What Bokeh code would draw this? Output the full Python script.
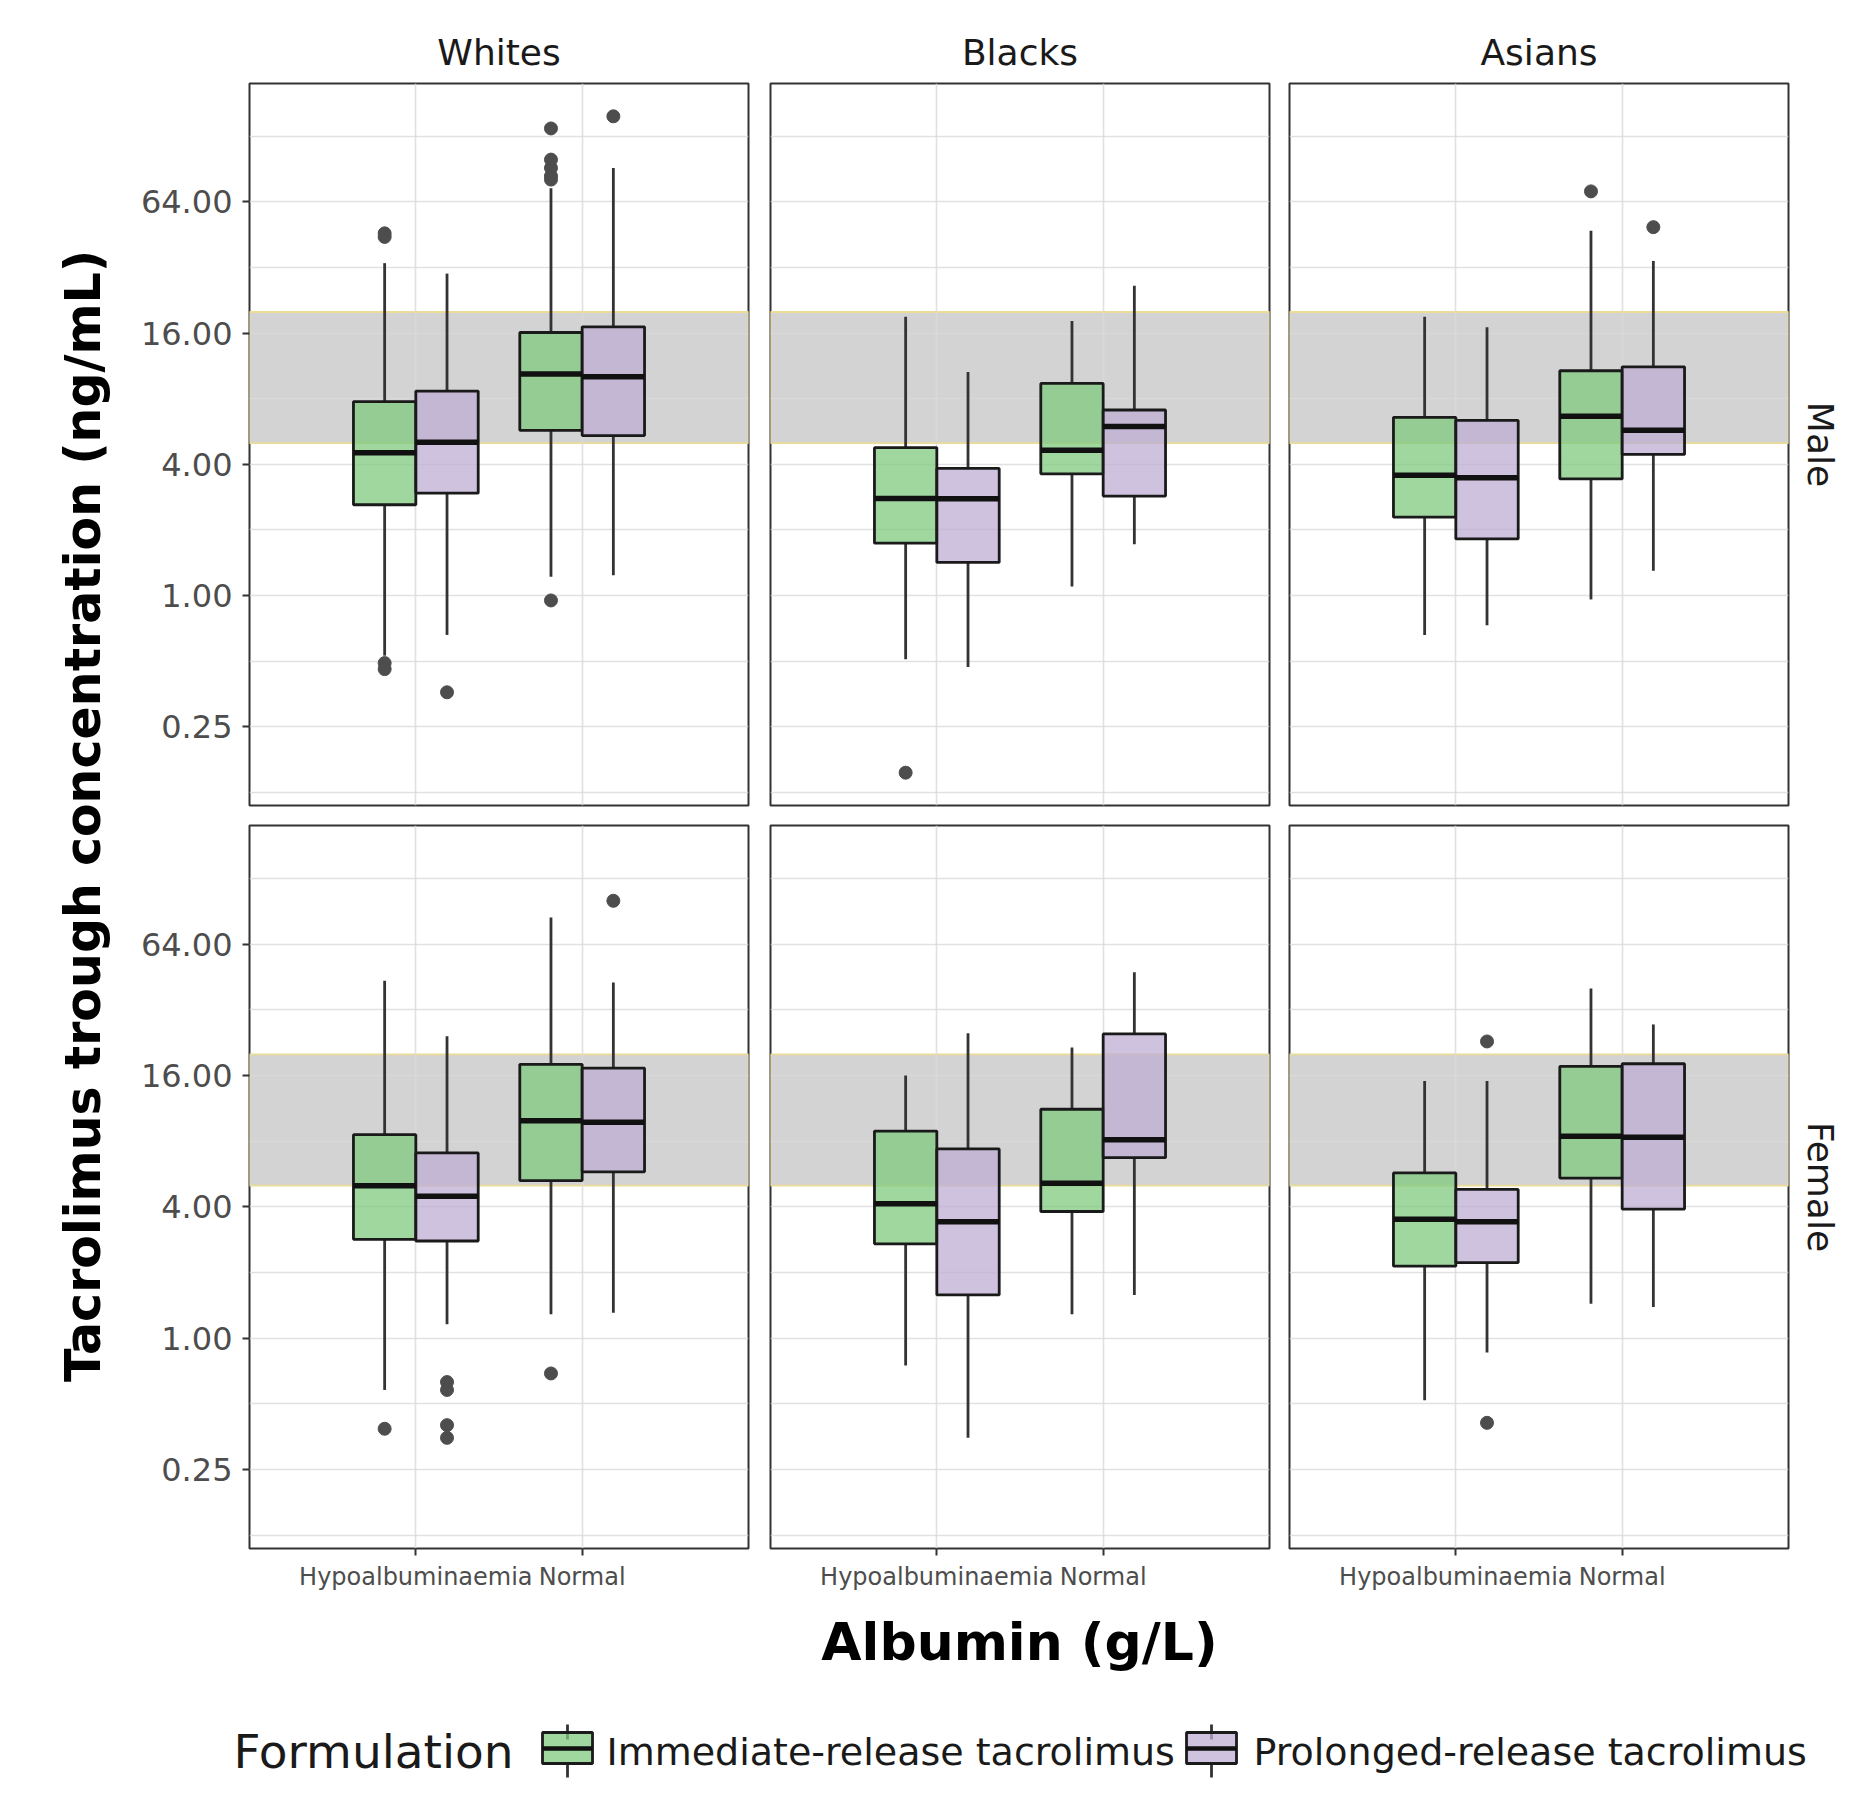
import itertools
import math

from bokeh.core.properties import value
from bokeh.embed import file_html
from bokeh.layouts import column, row
from bokeh.models import (ColumnDataSource, FixedTicker, PrintfTickFormatter,
                          Range1d, Title)
from bokeh.plotting import figure
from bokeh.resources import INLINE

# ---------------------------------------------------------------- data ----
RACES = ["Whites", "Blacks", "Asians"]
SEXES = ["Male", "Female"]
ALBUMIN = ["Hypoalbuminaemia", "Normal"]
FORMULATIONS = ["Immediate-release tacrolimus", "Prolonged-release tacrolimus"]

# Box statistics of tacrolimus trough concentration (ng/mL).
# One entry per group, ordered sex -> race -> albumin -> formulation (IR, PR).
whisker_low = [
    0.53, 0.66, 1.22, 1.24,    # Male, Whites
    0.51, 0.47, 1.10, 1.72,    # Male, Blacks
    0.66, 0.73, 0.96, 1.30,    # Male, Asians
    0.58, 1.16, 1.29, 1.31,    # Female, Whites
    0.75, 0.35, 1.29, 1.58,    # Female, Blacks
    0.52, 0.86, 1.44, 1.39,    # Female, Asians
]
q1 = [
    2.61, 2.95, 5.73, 5.42,
    1.74, 1.42, 3.62, 2.86,
    2.29, 1.82, 3.43, 4.44,
    2.84, 2.79, 5.28, 5.79,
    2.71, 1.58, 3.81, 6.72,
    2.14, 2.22, 5.42, 3.91,
]
median = [
    4.52, 5.05, 10.4, 10.1,
    2.79, 2.78, 4.64, 5.96,
    3.56, 3.47, 6.65, 5.73,
    5.00, 4.47, 9.93, 9.77,
    4.13, 3.42, 5.13, 8.12,
    3.51, 3.42, 8.43, 8.34,
]
q3 = [
    7.76, 8.67, 16.1, 17.1,
    4.77, 3.83, 9.40, 7.10,
    6.57, 6.36, 10.75, 11.2,
    8.57, 7.07, 18.0, 17.3,
    8.90, 7.37, 11.2, 24.8,
    5.72, 4.81, 17.6, 18.1,
]
whisker_high = [
    33.5, 30.0, 74.0, 91.6,
    19.0, 10.6, 18.2, 26.4,
    19.0, 17.0, 47.2, 34.3,
    43.4, 24.2, 84.7, 42.7,
    16.0, 25.0, 21.5, 47.5,
    15.1, 15.1, 40.0, 27.4,
]
# Outliers: index of the group (same ordering as above) and value
outlier_group = [0, 0, 0, 0, 1, 2, 2, 2, 2, 2, 2, 3, 4, 10, 11,
                 12, 13, 13, 13, 13, 14, 15, 21, 21]
outlier_value = [45.9, 44.2, 0.49, 0.46, 0.36, 139, 100, 91.6, 84, 81, 0.95,
                 158, 0.154, 71.5, 49, 0.385, 0.63, 0.58, 0.40, 0.35, 0.69,
                 101, 22.9, 0.41]

# Therapeutic target range (ng/mL)
TARGET_LOW, TARGET_HIGH = 5, 20
Y_TICKS = [0.25, 1, 4, 16, 64]
Y_MINOR = [Y_TICKS[0] / 2] + [t * 2 for t in Y_TICKS]

# ------------------------------------------------------------- styling ----
FONT = "DejaVu Sans"
FILLS = ["#7FC97F", "#BEAED4"]
BOX_W = 0.375
GRID = "#d9d9d9"
TEXT_DARK = "#1a1a1a"
TEXT_GREY = "#4d4d4d"
LINE_W = 2.8

GROUPS = list(itertools.product(range(len(SEXES)), range(len(RACES)),
                                range(len(ALBUMIN)), range(len(FORMULATIONS))))

# y range: data extent on log2 scale, expanded by 5 % on each side
all_vals = whisker_low + whisker_high + outlier_value
lo2, hi2 = math.log2(min(all_vals)), math.log2(max(all_vals))
pad = 0.05 * (hi2 - lo2)
Y_START, Y_END = 2 ** (lo2 - pad), 2 ** (hi2 + pad)

COL_W = [638, 521, 575]
COL_BORDERS = [(129, 10), (12, 10), (10, 66)]
ROW_H = [815, 783]
ROW_BORDERS = [(83, 10), (10, 50)]
YTITLE_W = 120


def make_panel(s_i, r_i):
    b_left, b_right = COL_BORDERS[r_i]
    b_top, b_bottom = ROW_BORDERS[s_i]
    p = figure(width=COL_W[r_i], height=ROW_H[s_i],
               x_range=Range1d(0, len(ALBUMIN) + 1),
               y_range=Range1d(Y_START, Y_END), y_axis_type="log",
               title=RACES[r_i] if s_i == 0 else None,
               output_backend="svg", toolbar_location=None, tools="",
               min_border_left=b_left, min_border_right=b_right,
               min_border_top=b_top, min_border_bottom=b_bottom)
    p.background_fill_color = "white"
    p.border_fill_color = "white"
    p.outline_line_color = "#333333"
    p.outline_line_width = 2

    if s_i == 0:
        p.title.align = "center"
        p.title.text_font = FONT
        p.title.text_font_style = "normal"
        p.title.text_font_size = "36px"
        p.title.text_color = TEXT_DARK
        p.title.standoff = 21
    if r_i == len(RACES) - 1:
        p.add_layout(Title(text=SEXES[s_i], align="center", text_font=FONT,
                           text_font_style="normal", text_font_size="36px",
                           text_color=TEXT_DARK, standoff=23), "right")

    # axes
    p.yaxis.ticker = FixedTicker(ticks=Y_TICKS, minor_ticks=Y_MINOR)
    p.yaxis.formatter = PrintfTickFormatter(format="%.2f")
    p.xaxis.ticker = FixedTicker(ticks=list(range(1, len(ALBUMIN) + 1)))
    p.xaxis.major_label_overrides = {i + 1: a for i, a in enumerate(ALBUMIN)}
    for ax in (p.xaxis, p.yaxis):
        ax.axis_line_color = None
        ax.major_tick_in = 0
        ax.major_tick_out = 7
        ax.major_tick_line_color = "#333333"
        ax.major_tick_line_width = 2
        ax.minor_tick_line_color = None
        ax.major_label_text_font = FONT
        ax.major_label_text_color = TEXT_GREY
    p.yaxis.major_label_text_font_size = "32px"
    p.yaxis.major_label_standoff = 10
    p.xaxis.major_label_text_font_size = "24px"
    p.xaxis.major_label_standoff = 7
    p.yaxis.visible = r_i == 0
    p.xaxis.visible = s_i == len(SEXES) - 1

    # grid
    p.ygrid.ticker = FixedTicker(ticks=Y_TICKS, minor_ticks=Y_MINOR)
    p.xgrid.ticker = FixedTicker(ticks=list(range(1, len(ALBUMIN) + 1)))
    p.grid.grid_line_color = GRID
    p.grid.grid_line_alpha = 0.8
    p.grid.grid_line_width = 1.7
    p.ygrid.minor_grid_line_color = GRID
    p.ygrid.minor_grid_line_alpha = 0.8
    p.ygrid.minor_grid_line_width = 1.4

    # target range band
    p.quad(left=[0], right=[len(ALBUMIN) + 1], bottom=[TARGET_LOW],
           top=[TARGET_HIGH], fill_color="#d3d3d3", line_color="#ecdc96",
           line_width=1.8, level="image")

    # boxes
    rows = [g for g, key in enumerate(GROUPS) if key[0] == s_i and key[1] == r_i]
    xs = [GROUPS[g][2] + 1 + (GROUPS[g][3] - 0.5) * BOX_W for g in rows]
    src = ColumnDataSource(dict(
        x=xs,
        xl=[x - BOX_W / 2 for x in xs],
        xr=[x + BOX_W / 2 for x in xs],
        lo=[whisker_low[g] for g in rows],
        q1=[q1[g] for g in rows],
        med=[median[g] for g in rows],
        q3=[q3[g] for g in rows],
        hi=[whisker_high[g] for g in rows],
        fill=[FILLS[GROUPS[g][3]] for g in rows],
    ))
    p.segment(x0="x", y0="q3", x1="x", y1="hi", source=src,
              line_color="#333333", line_width=LINE_W)
    p.segment(x0="x", y0="q1", x1="x", y1="lo", source=src,
              line_color="#333333", line_width=LINE_W)
    p.vbar(x="x", width=BOX_W, bottom="q1", top="q3", source=src,
           fill_color="fill", fill_alpha=0.75, line_color="#1a1a1a",
           line_width=LINE_W)
    p.segment(x0="xl", y0="med", x1="xr", y1="med", source=src,
              line_color="#111111", line_width=5.5)

    # outliers
    ox, oy = [], []
    for g, v in zip(outlier_group, outlier_value):
        s, r, a, f = GROUPS[g]
        if s == s_i and r == r_i:
            ox.append(a + 1 + (f - 0.5) * BOX_W)
            oy.append(v)
    if ox:
        p.scatter(ox, oy, size=13, fill_color="#4d4d4d", line_color="#4d4d4d")
    return p


def blank(width, height):
    p = figure(width=width, height=height, x_range=Range1d(0, width),
               y_range=Range1d(0, height), output_backend="svg",
               toolbar_location=None, tools="", min_border=0)
    p.axis.visible = False
    p.grid.visible = False
    p.outline_line_color = None
    p.background_fill_color = "white"
    p.border_fill_color = "white"
    return p


panels = [[make_panel(s, r) for r in range(len(RACES))] for s in range(len(SEXES))]
grid_h = sum(ROW_H)

# y-axis title, centred on both panel rows
ytitle = blank(YTITLE_W, grid_h)
ytitle.text(x=[83], y=[grid_h - 815.5], text=["Tacrolimus trough concentration (ng/mL)"],
            angle=math.pi / 2, text_font=value(FONT), text_font_style="bold",
            text_font_size="49px", text_align="center", text_baseline="middle",
            text_color="#000000")

# x-axis title and legend
BOTTOM_H = 212
total_w = YTITLE_W + sum(COL_W)
bottom = blank(total_w, BOTTOM_H)
bottom.text(x=[1019], y=[BOTTOM_H - 43], text=["Albumin (g/L)"],
            text_font=value(FONT), text_font_style="bold", text_font_size="52px",
            text_align="center", text_baseline="middle", text_color="#000000")

LEG_Y = BOTTOM_H - 153
bottom.text(x=[233], y=[LEG_Y], text=["Formulation"], text_font=value(FONT),
            text_font_size="47px", text_align="left", text_baseline="middle",
            text_color=TEXT_DARK)
KEY_X = [542, 1186]
TEXT_X = [606, 1253]
KEY_W = 50
for i, label in enumerate(FORMULATIONS):
    cx = KEY_X[i] + KEY_W / 2
    bottom.segment(x0=[cx, cx], y0=[LEG_Y + 27, LEG_Y - 12],
                   x1=[cx, cx], y1=[LEG_Y + 12, LEG_Y - 26],
                   line_color="#333333", line_width=LINE_W)
    bottom.quad(left=[KEY_X[i]], right=[KEY_X[i] + KEY_W], bottom=[LEG_Y - 12],
                top=[LEG_Y + 19], fill_color=FILLS[i], fill_alpha=0.75,
                line_color="#1a1a1a", line_width=LINE_W)
    bottom.segment(x0=[KEY_X[i]], y0=[LEG_Y + 3], x1=[KEY_X[i] + KEY_W],
                   y1=[LEG_Y + 3], line_color="#111111", line_width=4.5)
    bottom.text(x=[TEXT_X[i]], y=[LEG_Y], text=[label], text_font=value(FONT),
                text_font_size="38px", text_align="left", text_baseline="middle",
                text_color=TEXT_DARK)

layout = column(
    row(ytitle, column(row(*panels[0]), row(*panels[1]))),
    bottom,
)

open("out.html", "w").write(file_html(layout, INLINE))
